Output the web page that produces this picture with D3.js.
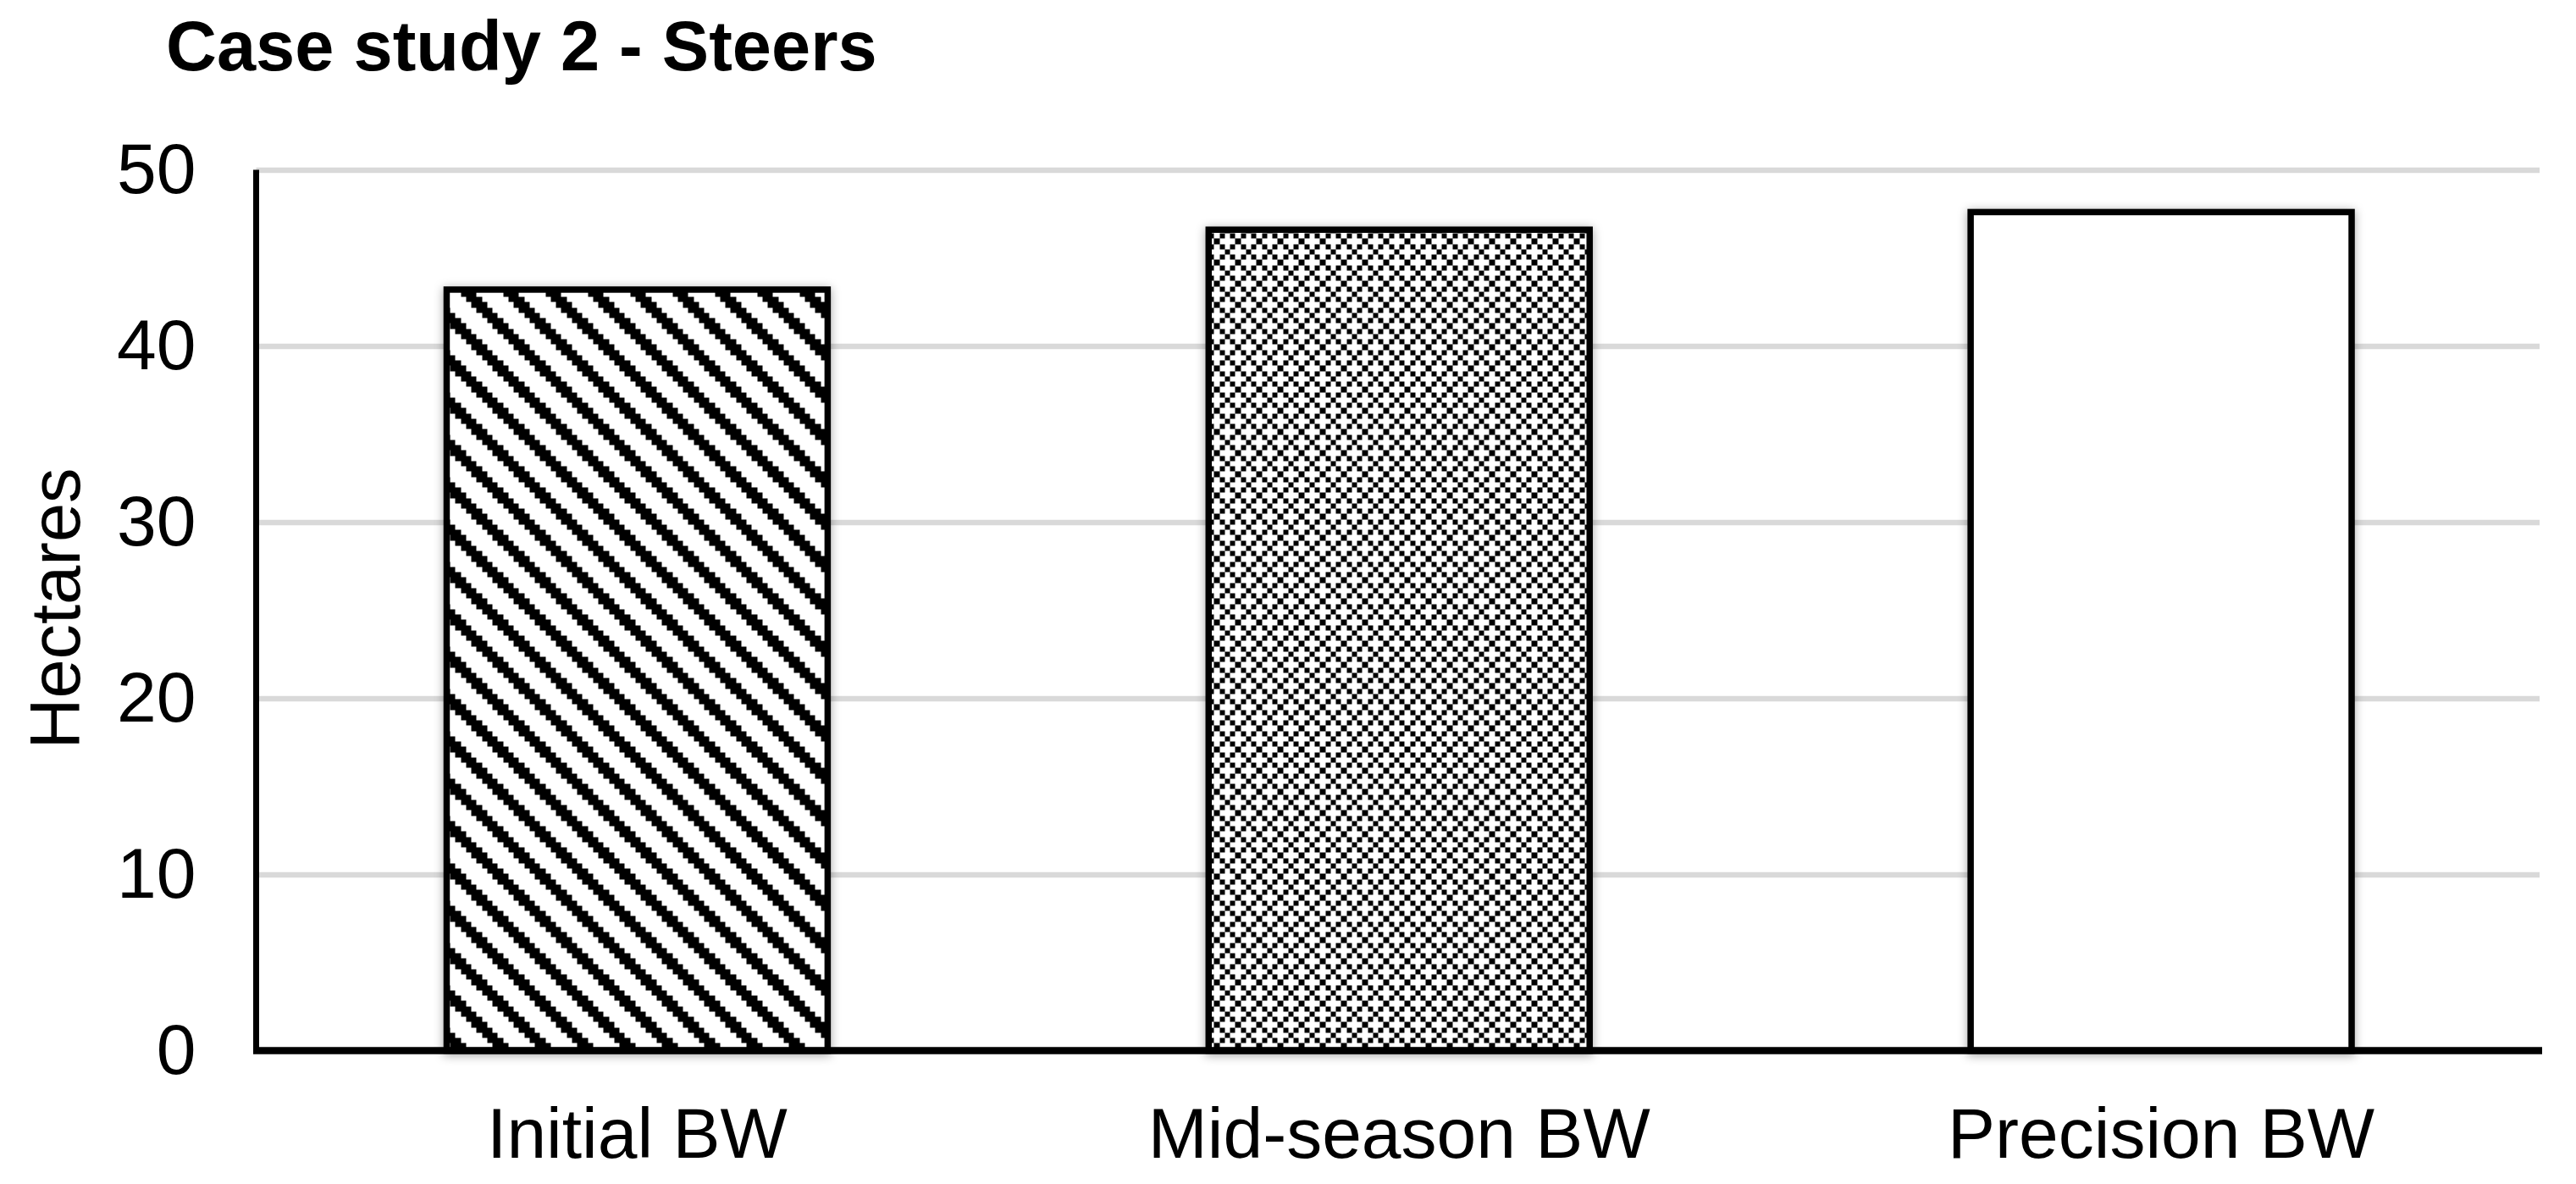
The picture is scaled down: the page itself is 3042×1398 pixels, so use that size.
<!DOCTYPE html>
<html>
<head>
<meta charset="utf-8">
<script src="https://cdn.jsdelivr.net/npm/d3@7"></script>
<style>
  body { margin: 0; background: #fff; }
  #chart text { font-family: "Liberation Sans", Arial, sans-serif; fill: #000; }
</style>
</head>
<body>
<div id="chart"></div>
<script>
// data
var categories = ["Initial BW", "Mid-season BW", "Precision BW"];
var hectares = [43.2, 46.6, 47.6];
var yTicks = [0, 10, 20, 30, 40, 50];
var fills = ["url(#wdDnDiag)", "url(#pct30)", "#fff"];

var W = 3042, H = 1398;
var margin = {top: 200.5, right: 40, bottom: 157.5, left: 302.5},
    width = W - margin.left - margin.right,
    height = H - margin.top - margin.bottom;

var root = d3.select("#chart").append("svg")
    .attr("width", W)
    .attr("height", H)
    .style("background", "#fff");

// excel-like 8x8 hatch patterns, scaled up
var bits = {
  wdDnDiag: ["11000001","11100000","01110000","00111000","00011100","00001110","00000111","10000011"],
  pct30:    ["10101010","01000100","10101010","00010001","10101010","01000100","10101010","00010001"]
};
var px = 6.25;
var defs = root.append("defs");
Object.keys(bits).forEach(function(k) {
  var p = defs.append("pattern")
      .attr("id", k)
      .attr("patternUnits", "userSpaceOnUse")
      .attr("x", k == "wdDnDiag" ? 4 : 0)
      .attr("width", px * 8)
      .attr("height", px * 8);
  p.append("rect").attr("width", px * 8).attr("height", px * 8).attr("fill", "#fff");
  bits[k].forEach(function(row, r) {
    row.split("").forEach(function(b, c) {
      if (b == "1") p.append("rect")
          .attr("x", c * px).attr("y", r * px)
          .attr("width", px).attr("height", px)
          .attr("fill", "#000")
          .attr("shape-rendering", "crispEdges");
    });
  });
});

defs.append("filter")
    .attr("id", "shadow")
    .attr("x", "-20%").attr("y", "-20%")
    .attr("width", "140%").attr("height", "140%")
  .append("feDropShadow")
    .attr("dx", 0).attr("dy", 2)
    .attr("stdDeviation", 6)
    .attr("flood-color", "#000")
    .attr("flood-opacity", 0.35);

var svg = root.append("g")
    .attr("transform", "translate(" + margin.left + "," + margin.top + ")");

var x = d3.scaleBand().domain(categories).range([0, width]).paddingInner(0.5).paddingOuter(0.25),
    y = d3.scaleLinear().domain([0, 50]).range([height, 0]);

// gridlines
svg.append("g")
    .attr("class", "grid")
    .call(d3.axisLeft(y).tickValues(yTicks.slice(1)).tickSize(-width + 3).tickFormat(""))
    .call(function(g) { g.select(".domain").remove(); })
  .selectAll("line")
    .attr("stroke", "#d9d9d9")
    .attr("stroke-width", 6.7);

// bars
svg.selectAll(".bar")
    .data(categories)
  .enter().append("rect")
    .attr("class", "bar")
    .attr("x", function(d) { return x(d); })
    .attr("y", function(d, i) { return y(hectares[i]); })
    .attr("width", x.bandwidth())
    .attr("height", function(d, i) { return height - y(hectares[i]); })
    .attr("fill", function(d, i) { return fills[i]; })
    .attr("stroke", "#000")
    .attr("stroke-width", 7.5)
    .attr("filter", "url(#shadow)");

// y axis labels
svg.append("g")
    .attr("class", "y-axis")
    .call(d3.axisLeft(y).tickValues(yTicks).tickSize(0).tickPadding(71))
    .call(function(g) { g.select(".domain").remove(); })
  .selectAll("text")
    .style("font-size", "84px");

// x axis labels
svg.append("g")
    .attr("class", "x-axis")
    .attr("transform", "translate(0," + height + ")")
    .call(d3.axisBottom(x).tickSize(0).tickPadding(67))
    .call(function(g) { g.select(".domain").remove(); })
  .selectAll("text")
    .style("font-size", "84px");

// axis lines
svg.append("line")
    .attr("x1", 0).attr("x2", 0)
    .attr("y1", 0).attr("y2", height)
    .attr("stroke", "#000").attr("stroke-width", 7);
svg.append("line")
    .attr("x1", -3.5).attr("x2", width)
    .attr("y1", height).attr("y2", height)
    .attr("stroke", "#000").attr("stroke-width", 8.5);

// y title
root.append("text")
    .attr("transform", "translate(94," + (margin.top + height / 2 - 2) + ") rotate(-90)")
    .attr("text-anchor", "middle")
    .style("font-size", "83px")
    .text("Hectares");

// chart title
root.append("text")
    .attr("x", 196)
    .attr("y", 83)
    .style("font-size", "83px")
    .style("font-weight", "bold")
    .text("Case study 2 - Steers");
</script>
</body>
</html>
